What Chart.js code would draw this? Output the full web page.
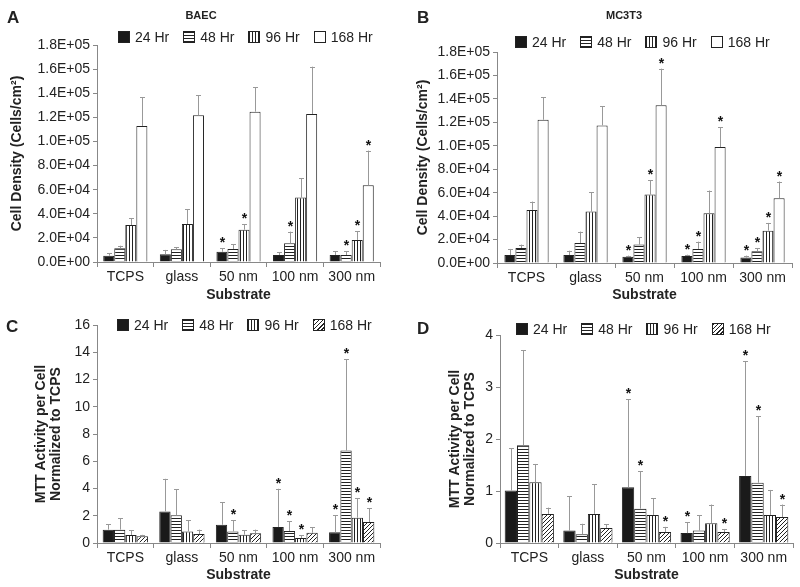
<!DOCTYPE html>
<html>
<head>
<meta charset="utf-8">
<script src="https://cdn.jsdelivr.net/npm/chart.js@4.4.0/dist/chart.umd.min.js"></script>
<style>
    body { margin: 0; background: #fff; font-family: "Liberation Sans", Arial, sans-serif; color: #222; }
    #fig { position: relative; width: 800px; height: 587px; overflow: hidden; }
    canvas { position: absolute; }
    .letter { position: absolute; font-size: 17px; font-weight: bold; line-height: 17px; }
    .title { position: absolute; font-size: 11px; font-weight: bold; line-height: 11px; transform: translateX(-50%); }
    .legend { position: absolute; display: flex; gap: 14px; font-size: 14px; line-height: 14px; }
    .legend span { display: flex; align-items: center; gap: 5px; }
    .legend i { display: inline-block; width: 12px; height: 12px; box-sizing: border-box; border: 1px solid #222; }
</style>
</head>
<body>
<div id="fig">
    <canvas id="chartA" width="400" height="310" style="left:0;top:0"></canvas>
    <canvas id="chartB" width="400" height="310" style="left:400px;top:0"></canvas>
    <canvas id="chartC" width="400" height="297" style="left:0;top:290px"></canvas>
    <canvas id="chartD" width="400" height="297" style="left:400px;top:290px"></canvas>

    <div class="letter" style="left:7px;top:9px">A</div>
    <div class="letter" style="left:417px;top:9px">B</div>
    <div class="letter" style="left:6px;top:318px">C</div>
    <div class="letter" style="left:417px;top:320px">D</div>
    <div class="title" style="left:201px;top:10px">BAEC</div>
    <div class="title" style="left:624px;top:10px">MC3T3</div>

    <div class="legend" id="legA" style="left:118px;top:30px"></div>
    <div class="legend" id="legB" style="left:515px;top:35px"></div>
    <div class="legend" id="legC" style="left:117px;top:318px"></div>
    <div class="legend" id="legD" style="left:516px;top:322px"></div>
</div>
<script>
// substrates and time points
const substrates = ['TCPS', 'glass', '50 nm', '100 nm', '300 nm'];
const timePoints = ['24 Hr', '48 Hr', '96 Hr', '168 Hr'];

// y tick labels
const cellTicks = ['0.0E+00', '2.0E+04', '4.0E+04', '6.0E+04', '8.0E+04', '1.0E+05', '1.2E+05', '1.4E+05', '1.6E+05', '1.8E+05'];
const mttTicksC = ['0', '2', '4', '6', '8', '10', '12', '14', '16'];
const mttTicksD = ['0', '1', '2', '3', '4'];

// A: BAEC cell density, rows = 24/48/96/168 Hr
const baecMean = [
    [5200, 6400, 8500, 5800, 5800],
    [11400, 10500, 10800, 15500, 5800],
    [30700, 31500, 26800, 53400, 18300],
    [112900, 121700, 124700, 122800, 63600]
];
const baecUpper = [
    [7200, 10000, 11400, 8000, 9100],
    [13500, 12200, 14700, 25200, 8900],
    [36300, 43700, 31300, 69500, 25700],
    [136700, 138300, 145000, 162000, 92400]
];
const baecStars = [
    [0, 0, 1, 0, 0],
    [0, 0, 0, 1, 1],
    [0, 0, 1, 0, 1],
    [0, 0, 0, 0, 1]
];

// B: MC3T3 cell density
const mc3t3Mean = [
    [6800, 6800, 5400, 6000, 4600],
    [12800, 17100, 15700, 12000, 10000],
    [45300, 43900, 58400, 42500, 27600],
    [122200, 117400, 134500, 98900, 55300]
];
const mc3t3Upper = [
    [12000, 10500, 6300, 7100, 6300],
    [15700, 26800, 21900, 18200, 12800],
    [52400, 60400, 70400, 61800, 34200],
    [141600, 133600, 165800, 116000, 69500]
];
const mc3t3Stars = [
    [0, 0, 1, 1, 1],
    [0, 0, 0, 1, 1],
    [0, 0, 1, 0, 1],
    [0, 0, 1, 1, 1]
];

// C: BAEC MTT activity per cell
const mttBaecMean = [
    [0.98, 2.32, 1.34, 1.17, 0.78],
    [0.98, 2.03, 0.85, 0.88, 6.79],
    [0.59, 0.85, 0.61, 0.37, 1.86],
    [0.49, 0.66, 0.71, 0.76, 1.54]
];
const mttBaecUpper = [
    [1.39, 4.71, 3.0, 3.98, 2.03],
    [1.83, 3.96, 1.66, 1.61, 13.48],
    [0.93, 1.66, 0.93, 0.56, 3.27],
    [0.6, 0.98, 0.98, 1.17, 2.56]
];
const mttBaecStars = [
    [0, 0, 0, 1, 1],
    [0, 0, 1, 1, 1],
    [0, 0, 0, 1, 1],
    [0, 0, 0, 0, 1]
];

// D: MC3T3 MTT activity per cell
const mttMc3t3Mean = [
    [1.01, 0.24, 1.07, 0.19, 1.29],
    [1.88, 0.17, 0.66, 0.24, 1.16],
    [1.17, 0.56, 0.54, 0.38, 0.54],
    [0.56, 0.29, 0.21, 0.21, 0.50]
];
const mttMc3t3Upper = [
    [1.82, 0.90, 2.76, 0.40, 3.50],
    [3.71, 0.37, 1.38, 0.53, 2.44],
    [1.52, 1.13, 0.86, 0.74, 1.02],
    [0.68, 0.36, 0.31, 0.27, 0.74]
];
const mttMc3t3Stars = [
    [0, 0, 1, 1, 1],
    [0, 0, 1, 0, 1],
    [0, 0, 0, 0, 0],
    [0, 0, 1, 1, 1]
];

Chart.defaults.font.family = '"Liberation Sans", Arial, sans-serif';
Chart.defaults.font.size = 14;
Chart.defaults.color = '#222';

function makePattern(kind) {
    const c = document.createElement('canvas');
    const s = kind === 'd' ? 4 : 3;
    c.width = s;
    c.height = s;
    const g = c.getContext('2d');
    g.fillStyle = '#fff';
    g.fillRect(0, 0, s, s);
    g.fillStyle = '#222';
    if (kind === 'h') g.fillRect(0, 0, s, 1);
    if (kind === 'v') g.fillRect(0, 0, 1, s);
    if (kind === 'd') {
        for (let i = 0; i < s; i++) g.fillRect(s - 1 - i, i, 1, 1);
    }
    return g.createPattern(c, 'repeat');
}

const fills = {
    solid: '#1a1a1a',
    h: makePattern('h'),
    v: makePattern('v'),
    d: makePattern('d'),
    white: '#ffffff'
};
const swatchCss = {
    solid: 'background:#1a1a1a',
    h: 'background:repeating-linear-gradient(to bottom,#222 0 1px,#fff 1px 3px)',
    v: 'background:repeating-linear-gradient(to right,#222 0 1px,#fff 1px 3px)',
    d: 'background:repeating-linear-gradient(135deg,#222 0 1px,#fff 1px 3px)',
    white: 'background:#fff'
};

// upward error bars with caps, asterisks above significant ones
const errorBars = {
    id: 'errorBars',
    afterDatasetsDraw(chart) {
        const ctx = chart.ctx;
        const yScale = chart.scales.y;
        chart.data.datasets.forEach((ds, i) => {
            const meta = chart.getDatasetMeta(i);
            meta.data.forEach((bar, j) => {
                const top = yScale.getPixelForValue(ds.upper[j]);
                const x = Math.round(bar.x) + 0.5;
                ctx.save();
                ctx.strokeStyle = '#999';
                ctx.lineWidth = 1;
                ctx.beginPath();
                ctx.moveTo(x, bar.y);
                ctx.lineTo(x, top);
                ctx.moveTo(x - 2.5, Math.round(top) + 0.5);
                ctx.lineTo(x + 2.5, Math.round(top) + 0.5);
                ctx.stroke();
                if (ds.stars[j]) {
                    ctx.fillStyle = '#111';
                    ctx.font = 'bold 14px "Liberation Sans", Arial, sans-serif';
                    ctx.textAlign = 'center';
                    ctx.textBaseline = 'alphabetic';
                    ctx.fillText('*', x, top - 1);
                }
                ctx.restore();
            });
        });
    }
};

function buildLegend(id, kinds) {
    const el = document.getElementById(id);
    el.innerHTML = timePoints.map((t, i) =>
        `<span><i style="${swatchCss[kinds[i]]}"></i>${t}</span>`).join('');
}

function makeChart(id, p) {
    const ctx = document.getElementById(id).getContext('2d');
    return new Chart(ctx, {
        type: 'bar',
        data: {
            labels: substrates,
            datasets: timePoints.map((t, i) => ({
                label: t,
                data: p.mean[i],
                upper: p.upper[i],
                stars: p.stars[i],
                backgroundColor: fills[p.kinds[i]],
                borderColor: '#222',
                borderWidth: 1,
                categoryPercentage: p.catPct,
                barPercentage: 1.0
            }))
        },
        options: {
            responsive: false,
            animation: false,
            layout: { padding: { top: p.padTop, right: p.padRight, left: 0, bottom: 0 } },
            plugins: {
                legend: { display: false },
                tooltip: { enabled: false }
            },
            scales: {
                x: {
                    ticks: { padding: 2, maxRotation: 0, autoSkip: false, font: { size: 14 } },
                    grid: { drawOnChartArea: false, tickLength: 5, color: '#888' },
                    border: { color: '#888' },
                    title: {
                        display: true,
                        text: 'Substrate',
                        font: { size: 14, weight: 'bold', lineHeight: 1.2 },
                        padding: { top: 0, bottom: p.xTitlePad }
                    },
                    afterFit(s) { s.height = p.xHeight; }
                },
                y: {
                    min: 0,
                    max: p.max,
                    ticks: {
                        stepSize: p.step,
                        padding: 3,
                        font: { size: 14 },
                        callback: (v, i) => p.tickLabels[i]
                    },
                    grid: { drawOnChartArea: false, tickLength: 4, color: '#888' },
                    border: { color: '#888' },
                    title: {
                        display: true,
                        text: p.yTitle,
                        font: { size: 14, weight: 'bold', lineHeight: p.yTitleLh },
                        padding: { top: p.yTitlePad, bottom: 0 }
                    },
                    afterFit(s) { s.width = p.yWidth; }
                }
            }
        },
        plugins: [errorBars]
    });
}

const openKinds = ['solid', 'h', 'v', 'white'];
const hatchKinds = ['solid', 'h', 'v', 'd'];

makeChart('chartA', {
    mean: baecMean, upper: baecUpper, stars: baecStars, kinds: openKinds,
    max: 180000, step: 20000, tickLabels: cellTicks,
    yTitle: 'Cell Density (Cells/cm²)', yTitleLh: 1.2, yTitlePad: 8.6,
    padTop: 45, padRight: 20, yWidth: 97, xHeight: 48, xTitlePad: 6.6, catPct: 0.78
});
makeChart('chartB', {
    mean: mc3t3Mean, upper: mc3t3Upper, stars: mc3t3Stars, kinds: openKinds,
    max: 180000, step: 20000, tickLabels: cellTicks,
    yTitle: 'Cell Density (Cells/cm²)', yTitleLh: 1.2, yTitlePad: 14.6,
    padTop: 52, padRight: 8, yWidth: 97, xHeight: 47, xTitlePad: 6.6, catPct: 0.75
});
makeChart('chartC', {
    mean: mttBaecMean, upper: mttBaecUpper, stars: mttBaecStars, kinds: hatchKinds,
    max: 16, step: 2, tickLabels: mttTicksC,
    yTitle: ['MTT Activity per Cell', 'Normalized to TCPS'], yTitleLh: 1.1, yTitlePad: 33,
    padTop: 35, padRight: 20, yWidth: 97, xHeight: 44, xTitlePad: 3.6, catPct: 0.8
});
makeChart('chartD', {
    mean: mttMc3t3Mean, upper: mttMc3t3Upper, stars: mttMc3t3Stars, kinds: hatchKinds,
    max: 4, step: 1, tickLabels: mttTicksD,
    yTitle: ['MTT Activity per Cell', 'Normalized to TCPS'], yTitleLh: 1.1, yTitlePad: 47,
    padTop: 45, padRight: 7, yWidth: 100, xHeight: 44, xTitlePad: 3.6, catPct: 0.84
});

buildLegend('legA', openKinds);
buildLegend('legB', openKinds);
buildLegend('legC', hatchKinds);
buildLegend('legD', hatchKinds);
</script>
</body>
</html>
